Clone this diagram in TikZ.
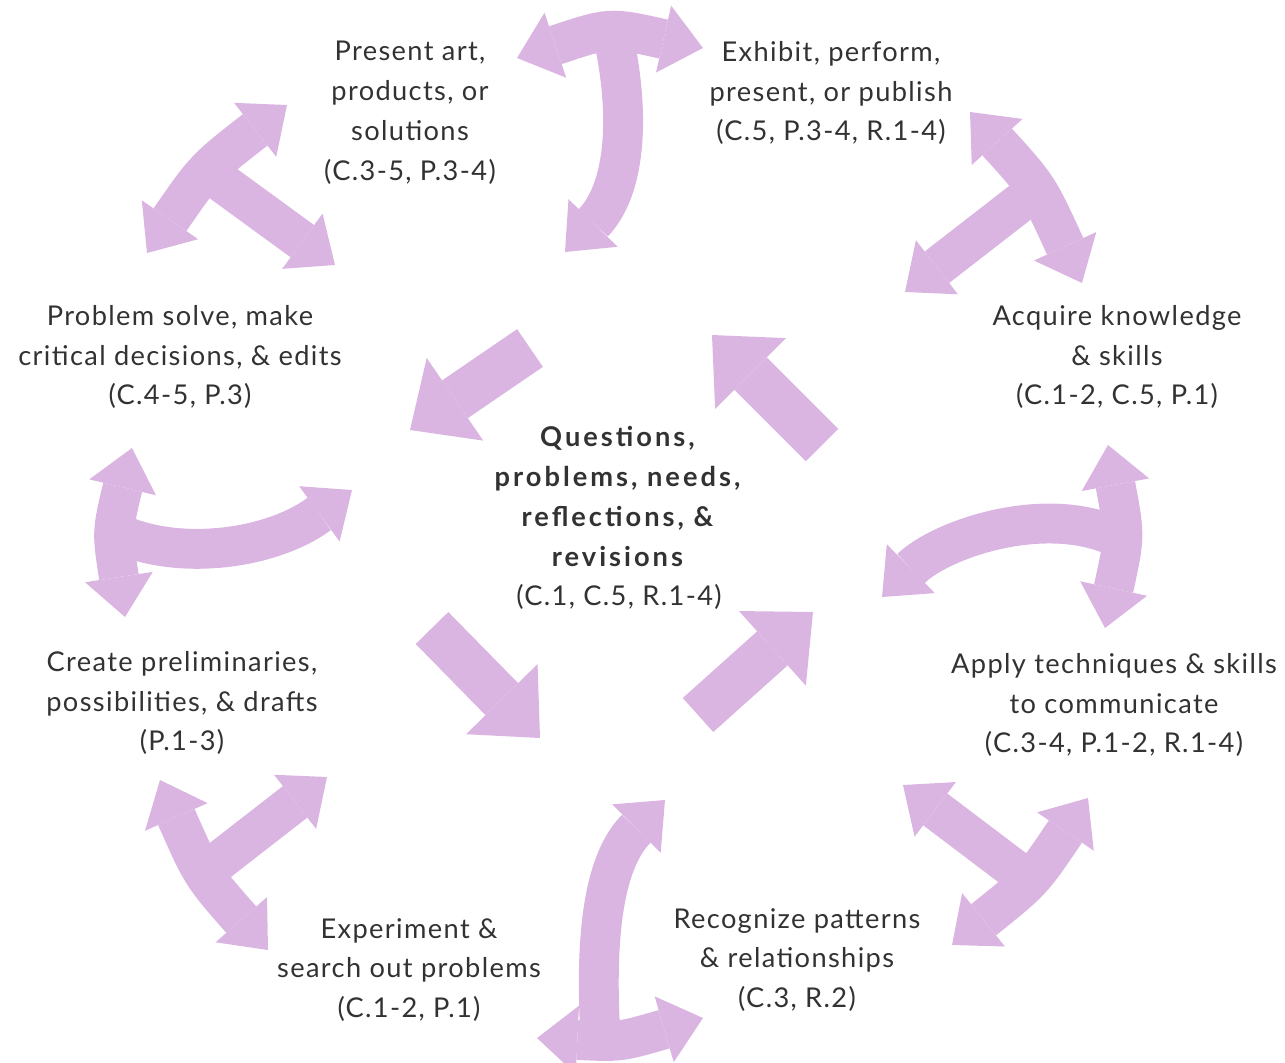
\documentclass[tikz,border=0pt]{standalone}
\usepackage{fontspec}
\setmainfont{Lato}[LetterSpace=5,BoldFeatures={LetterSpace=11}]
\usetikzlibrary{arrows.meta}
\definecolor{lilac}{RGB}{219,181,226}
\definecolor{ink}{RGB}{50,50,50}
\begin{document}
\begin{tikzpicture}[x=0.02cm,y=-0.02cm,
	lbl/.style={align=center,text=ink,inner sep=0pt,font=\fontsize{15.5}{22.7}\selectfont},
	twoway/.style={draw=lilac,line width=22.7pt,{Triangle[width=39pt,length=23pt,line width=0pt]}-{Triangle[width=39pt,length=23pt,line width=0pt]}},
	oneway/.style={draw=lilac,line width=22.7pt,-{Triangle[width=39pt,length=23pt,line width=0pt]}},
	inward/.style={draw=lilac,line width=26pt,-{Triangle[width=57pt,length=31pt,line width=0pt]}}]
	\useasboundingbox (0,0) rectangle (1285,1062);
	% arrow ends
	\coordinate (topL) at (517,58); \coordinate (topR) at (703,48); \coordinate (topM) at (615,45); \coordinate (topIn) at (565,252);
	\coordinate (ulA) at (147,253); \coordinate (ulB) at (287,105); \coordinate (ulM) at (213,176); \coordinate (ulIn) at (335,265);
	\coordinate (urA) at (970,112); \coordinate (urB) at (1082,283); \coordinate (urM) at (1030,195); \coordinate (urIn) at (905,292);
	\coordinate (rA) at (1108,445); \coordinate (rB) at (1105,628); \coordinate (rM) at (1112,535); \coordinate (rIn) at (882,597);
	\coordinate (lrA) at (1088,798); \coordinate (lrB) at (952,945); \coordinate (lrM) at (1018,872); \coordinate (lrIn) at (903,785);
	\coordinate (btA) at (703,1018); \coordinate (btB) at (537,1038); \coordinate (btM) at (600,1028); \coordinate (btIn) at (665,800);
	\coordinate (llA) at (268,950); \coordinate (llB) at (160,780); \coordinate (llM) at (210,868); \coordinate (llIn) at (327,777);
	\coordinate (lA) at (125,617); \coordinate (lB) at (132,448); \coordinate (lM) at (122,535); \coordinate (lIn) at (352,490);
	% outer T arrows
	\draw[oneway] (topM) .. controls (630,120) and (625,190) .. (topIn); \draw[twoway] (topL) .. controls (610,27) .. (topR); %top
	\draw[oneway] (ulM) -- (ulIn); \draw[twoway] (ulA) .. controls (205,169) .. (ulB); %upper left
	\draw[oneway] (urM) -- (urIn); \draw[twoway] (urA) .. controls (1038,187) .. (urB); %upper right
	\draw[oneway] (rM) .. controls (1040,505) and (940,540) .. (rIn); \draw[twoway] (rA) .. controls (1125,536) .. (rB); %right
	\draw[oneway] (lrM) -- (lrIn); \draw[twoway] (lrA) .. controls (1032,881) .. (lrB); %lower right
	\draw[oneway] (btM) .. controls (595,930) and (605,860) .. (btIn); \draw[twoway] (btA) .. controls (620,1042) .. (btB); %bottom
	\draw[oneway] (llM) -- (llIn); \draw[twoway] (llA) .. controls (202,875) .. (llB); %lower left
	\draw[oneway] (lM) .. controls (180,560) and (270,550) .. (lIn); \draw[twoway] (lA) .. controls (112,532) .. (lB); %left
	% inner arrows
	\coordinate (iulS) at (530,348); \coordinate (iulE) at (410,430);
	\coordinate (iurS) at (822,445); \coordinate (iurE) at (712,335);
	\coordinate (illS) at (432,628); \coordinate (illE) at (540,738);
	\coordinate (ilrS) at (698,715); \coordinate (ilrE) at (813,612);
	\draw[inward] (iulS) -- (iulE);
	\draw[inward] (iurS) -- (iurE);
	\draw[inward] (illS) -- (illE);
	\draw[inward] (ilrS) -- (ilrE);
	% labels
	\node[lbl] (present) at (410,113) {Present art,\\products, or\\solutions\\(C.3-5, P.3-4)};
	\node[lbl] (exhibit) at (831,93) {Exhibit, perform,\\present, or publish\\(C.5, P.3-4, R.1-4)};
	\node[lbl] (acquire) at (1117,357) {Acquire knowledge\\\& skills\\(C.1-2, C.5, P.1)};
	\node[lbl] (apply) at (1114,705) {Apply techniques \& skills\\to communicate\\(C.3-4, P.1-2, R.1-4)};
	\node[lbl] (recognize) at (797,960) {Recognize patterns\\\& relationships\\(C.3, R.2)};
	\node[lbl] (experiment) at (409,970) {Experiment \&\\search out problems\\(C.1-2, P.1)};
	\node[lbl] (create) at (182,703) {Create preliminaries,\\possibilities, \& drafts\\(P.1-3)};
	\node[lbl] (problem) at (180,357) {Problem solve, make\\critical decisions, \& edits\\(C.4-5, P.3)};
	\node[lbl] (hub) at (619,518) {\textbf{Questions,}\\\textbf{problems, needs,}\\\textbf{reflections, \&}\\\textbf{revisions}\\(C.1, C.5, R.1-4)};
\end{tikzpicture}
\end{document}
